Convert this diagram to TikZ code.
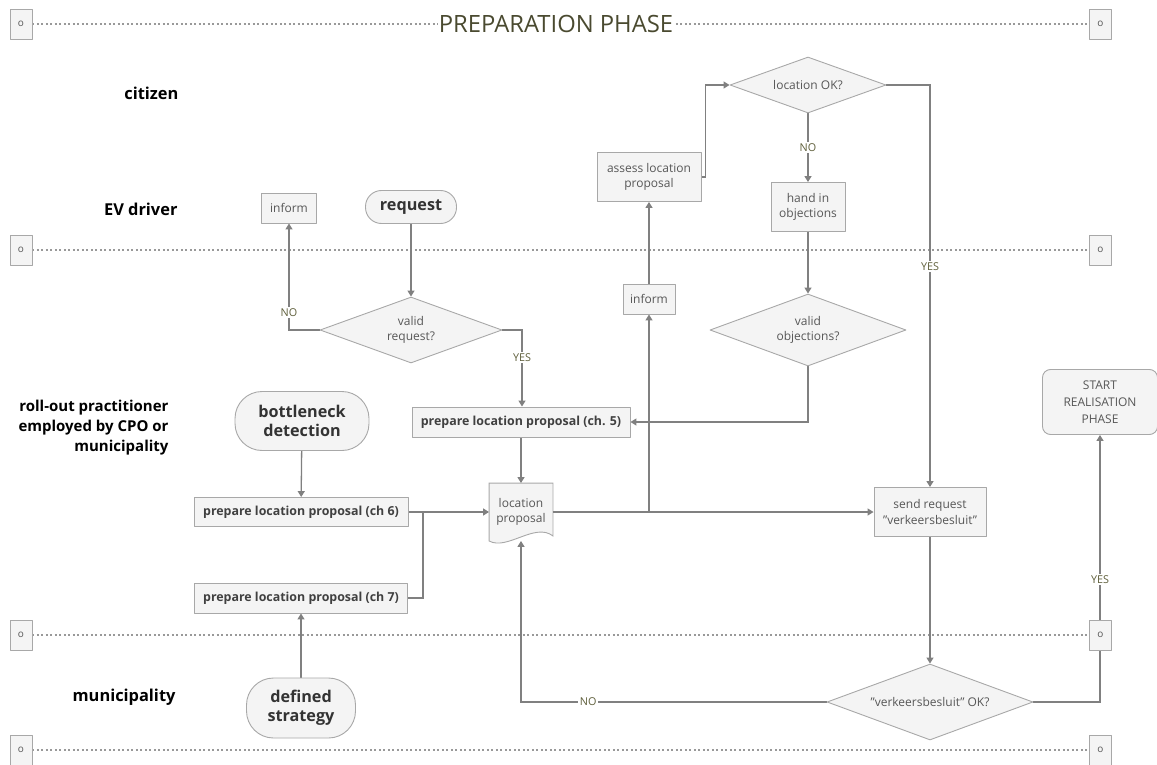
\documentclass[tikz,border=0pt]{standalone}
\usepackage{fontspec}
\setmainfont{Open Sans}
\usetikzlibrary{arrows.meta,shapes.geometric}
\pgfdeclarelayer{bg}
\pgfsetlayers{bg,main}
\definecolor{linegray}{HTML}{808080}
\definecolor{boxdraw}{HTML}{A8A8A8}
\definecolor{boxfill}{HTML}{F4F4F4}
\definecolor{txtgray}{HTML}{575757}
\definecolor{yesno}{HTML}{5E5E3A}
\definecolor{titlecol}{HTML}{4A4A30}
\begin{document}
\begin{tikzpicture}[x=1pt,y=-1pt,>={Triangle[width=7pt,length=6pt]},line join=round,
	proc/.style={draw=boxdraw,fill=boxfill,line width=.9pt,text=txtgray,align=center,inner sep=2pt,font=\fontsize{12}{15.5}\selectfont},
	prep/.style={proc,text=black!75,font=\bfseries\fontsize{12.4}{14}\selectfont,minimum height=30pt},
	term/.style={proc,text=black!80,font=\bfseries\fontsize{16.2}{19}\selectfont},
	decide/.style={proc,diamond,shape aspect=2.8,inner sep=0pt},
	lanebox/.style={draw=boxdraw,fill=boxfill,line width=.9pt,text=txtgray,minimum width=22pt,minimum height=30pt,inner sep=0pt,font=\fontsize{10}{10}\selectfont},
	lanelabel/.style={anchor=east,align=right,font=\bfseries\fontsize{16.4}{20}\selectfont},
	laneline/.style={draw=linegray!80,line width=1.6pt,dash pattern=on 1.6pt off 2.9pt},
	conn/.style={draw=linegray,line width=1.3pt},
	flow/.style={conn,->},
	answer/.style={fill=white,text=yesno,inner sep=1.5pt,font=\fontsize{10.8}{11}\selectfont}]
	\useasboundingbox (0,0) rectangle (1157,765);
	% swimlane separators
	\foreach \i/\y in {1/24,2/250,3/635,4/750}{
		\node[lanebox] (l\i) at (21,\y) {o};
		\node[lanebox] (r\i) at (1100.5,\y) {o};
	}
	\node[fill=white,text=titlecol,inner sep=1pt,font=\fontsize{23.8}{26}\selectfont] (title) at (556,24) {PREPARATION PHASE};
	% lanes
	\node[lanelabel] (citizen) at (182,93) {citizen};
	\node[lanelabel] (evdriver) at (181,209) {EV driver};
	\node[lanelabel,font=\bfseries\fontsize{15}{20}\selectfont] (practitioner) at (172,428) {roll-out practitioner\\employed by CPO or\\municipality};
	\node[lanelabel] (municipality) at (179,697) {municipality};
	% EV driver
	\node[proc,minimum width=55pt,minimum height=30pt] (inform1) at (289,208) {inform};
	\node[term,rounded corners=16pt,minimum width=91pt,minimum height=33pt] (request) at (411,207) {request};
	\node[decide,minimum width=182pt,minimum height=66pt] (vreq) at (411,330) {valid\\request?};
	% roll-out practitioner
	\node[term,rounded corners=27pt,minimum width=134pt,minimum height=59pt] (bneck) at (302,421) {bottleneck\\detection};
	\node[prep,minimum width=218pt] (prep5) at (521,422) {prepare location proposal (ch. 5)};
	\node[prep,minimum width=214pt,minimum height=29pt] (prep6) at (301,512) {prepare location proposal (ch 6)};
	\node[prep,minimum width=213pt] (prep7) at (301,598) {prepare location proposal (ch 7)};
	\node[proc,draw=none,fill=none,minimum width=63pt,minimum height=57pt] (locprop) at (521,512) {location\\proposal};
	\node[proc,minimum width=112pt,minimum height=49pt] (send) at (930,512) {send request\\"verkeersbesluit"};
	\node[proc,rounded corners=8pt,minimum width=115pt,minimum height=65pt,font=\fontsize{12}{17}\selectfont] (start) at (1100,402) {START\\REALISATION\\PHASE};
	% citizen
	\node[proc,minimum width=52pt,minimum height=30pt] (inform2) at (649,299) {inform};
	\node[proc,minimum width=104pt,minimum height=49pt] (assess) at (649,177) {assess location\\proposal};
	\node[decide,minimum width=156pt,minimum height=56pt] (lok) at (808,85) {location OK?};
	\node[proc,minimum width=74pt,minimum height=49pt] (hand) at (808,207) {hand in\\objections};
	\node[decide,minimum width=196pt,minimum height=72pt] (vobj) at (808,330) {valid\\objections?};
	% municipality
	\node[term,rounded corners=27pt,minimum width=109pt,minimum height=60pt] (defstr) at (301,708) {defined\\strategy};
	\node[decide,minimum width=206pt,minimum height=76pt] (verk) at (930,702) {"verkeersbesluit" OK?};
	\coordinate (j7) at (423,512);
	\begin{pgfonlayer}{bg}
		\foreach \i in {1,...,4}
			\draw[laneline] (l\i.east) -- (r\i.west);
		\filldraw[draw=boxdraw,fill=boxfill,line width=.9pt] (locprop.north west) -- (locprop.north east) -- ([yshift=5pt]locprop.south east) .. controls +(-18,-14) and +(18,10) .. (locprop.south west) -- cycle;
		% connectors
		\draw[flow] (request) -- (vreq);
		\draw[flow] (vreq.west) -| node[answer,pos=.58] {NO} (inform1.south);
		\draw[flow] (vreq.east) -| node[answer,pos=.68] {YES} ([xshift=1pt]prep5.north);
		\draw[flow] (prep5) -- (locprop);
		\draw[flow] (bneck) -- (prep6);
		\draw[flow] (defstr) -- (prep7);
		\draw[flow] (prep6) -- (locprop);
		\draw[conn] (prep7.east) -| (j7);
		\draw[flow] (locprop) -- (send);
		\draw[flow] (inform2.south |- locprop.east) -- (inform2);
		\draw[flow] (inform2) -- (assess);
		\draw[flow] (assess.east) -- ++(4,0) |- (lok.west);
		\draw[flow] (lok) -- node[answer] {NO} (hand);
		\draw[flow] (hand) -- (vobj);
		\draw[flow] (vobj.south) |- (prep5.east);
		\draw[flow] (lok.east) -| node[answer,pos=.726] {YES} (send.north);
		\draw[flow] (send) -- (verk);
		\draw[flow] (verk.west) -| node[answer,pos=.39] {NO} (locprop.south);
		\draw[flow] (verk.east) -| node[answer,pos=.73] {YES} (start.south);
	\end{pgfonlayer}
\end{tikzpicture}
\end{document}
